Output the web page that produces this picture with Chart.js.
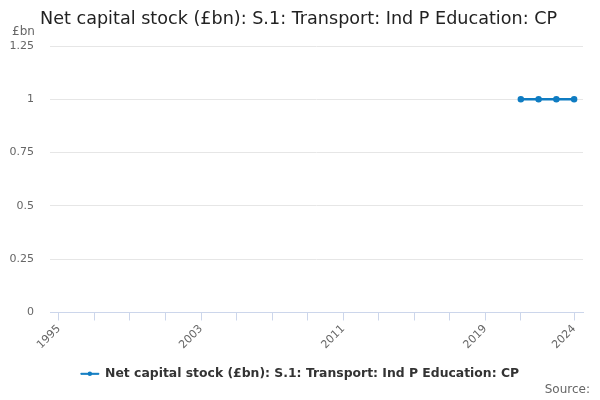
<!DOCTYPE html>
<html>
<head>
<meta charset="utf-8">
<script src="https://cdn.jsdelivr.net/npm/chart.js@4.4.0/dist/chart.umd.min.js"></script>
<style>
html,body{margin:0;padding:0;background:#fff;}
#wrap{width:600px;height:400px;position:relative;}
</style>
</head>
<body>
<div id="wrap"><canvas id="c" width="600" height="400"></canvas></div>
<script>
const titleText = 'Net capital stock (£bn): S.1: Transport: Ind P Education: CP';
const seriesName = 'Net capital stock (£bn): S.1: Transport: Ind P Education: CP';
const unitLabel = '£bn';
const sourceText = 'Source:';
const years = [1995,1996,1997,1998,1999,2000,2001,2002,2003,2004,2005,2006,2007,2008,2009,2010,2011,2012,2013,2014,2015,2016,2017,2018,2019,2020,2021,2022,2023,2024];
const values = [null,null,null,null,null,null,null,null,null,null,null,null,null,null,null,null,null,null,null,null,null,null,null,null,null,null,1,1,1,1];
const tickYears = [1995,1997,1999,2001,2003,2005,2007,2009,2011,2013,2015,2017,2019,2021,2024];
const labelYears = [1995,2003,2011,2019,2024];
const yTicks = [0,0.25,0.5,0.75,1,1.25];

const FONT = "'DejaVu Sans', sans-serif";
const BLUE = '#0f7cc2';

const extras = {
  id: 'extras',
  afterLayout(chart) {
    const lg = chart.legend;
    if (lg) {
      const shift = (chart.width / 2) - (lg.left + lg.right) / 2;
      lg.left += shift;
      lg.right += shift;
    }
  },
  afterDraw(chart) {
    const ctx = chart.ctx;
    ctx.save();
    ctx.fillStyle = '#222';
    ctx.font = "17.6px " + FONT;
    ctx.textAlign = 'left';
    ctx.textBaseline = 'middle';
    ctx.fillText(titleText, 40, 19);
    ctx.fillStyle = '#666';
    ctx.font = "12px " + FONT;
    ctx.fillText(unitLabel, 12, 32);
    ctx.textAlign = 'right';
    ctx.fillText(sourceText, 590, 390);
    const lg = chart.legend;
    if (lg && lg.legendHitBoxes && lg.legendHitBoxes[0]) {
      const hb = lg.legendHitBoxes[0];
      const cx = hb.left + 9, cy = hb.top + hb.height / 2;
      ctx.fillStyle = BLUE;
      ctx.beginPath();
      ctx.arc(cx, cy, 2.2, 0, Math.PI * 2);
      ctx.fill();
    }
    ctx.restore();
  }
};

new Chart(document.getElementById('c'), {
  type: 'line',
  data: {
    datasets: [{
      label: seriesName,
      data: years.map((y, i) => ({x: y, y: values[i]})),
      borderColor: BLUE,
      backgroundColor: BLUE,
      borderWidth: 2.5,
      pointRadius: 2,
      pointHoverRadius: 3,
      pointBackgroundColor: BLUE,
      pointBorderColor: BLUE,
      spanGaps: false,
      tension: 0
    }]
  },
  options: {
    responsive: false,
    animation: false,
    devicePixelRatio: 1,
    layout: {padding: {top: 46, left: 0, right: 17, bottom: 10}},
    plugins: {
      title: {display: false},
      tooltip: {enabled: false},
      legend: {
        position: 'bottom',
        labels: {
          boxWidth: 18,
          boxHeight: 1,
          padding: 14,
          color: '#333',
          font: {family: FONT, size: 12.4, weight: 'bold'},
          generateLabels(chart) {
            const items = Chart.defaults.plugins.legend.labels.generateLabels(chart);
            items.forEach(it => { it.lineWidth = 1; });
            return items;
          }
        }
      }
    },
    scales: {
      x: {
        type: 'linear',
        min: 1994.5,
        max: 2024.5,
        afterBuildTicks(scale) {
          scale.ticks = tickYears.map(v => ({value: v}));
        },
        ticks: {
          autoSkip: false,
          minRotation: 45,
          maxRotation: 45,
          color: '#666',
          font: {family: FONT, size: 11},
          padding: 2,
          callback(v) { return labelYears.includes(v) ? String(v) : ''; }
        },
        grid: {
          drawOnChartArea: false,
          drawTicks: true,
          tickLength: 8,
          color: '#ccd6eb'
        },
        border: {color: '#ccd6eb', width: 1}
      },
      y: {
        min: 0,
        max: 1.25,
        afterBuildTicks(scale) {
          scale.ticks = yTicks.map(v => ({value: v}));
        },
        afterFit(scale) { scale.width = 50; },
        ticks: {
          color: '#666',
          font: {family: FONT, size: 11},
          padding: 16,
          callback(v) { return String(v); }
        },
        grid: {
          color: '#e6e6e6',
          drawTicks: false
        },
        border: {display: false}
      }
    }
  },
  plugins: [extras]
});
</script>
</body>
</html>
